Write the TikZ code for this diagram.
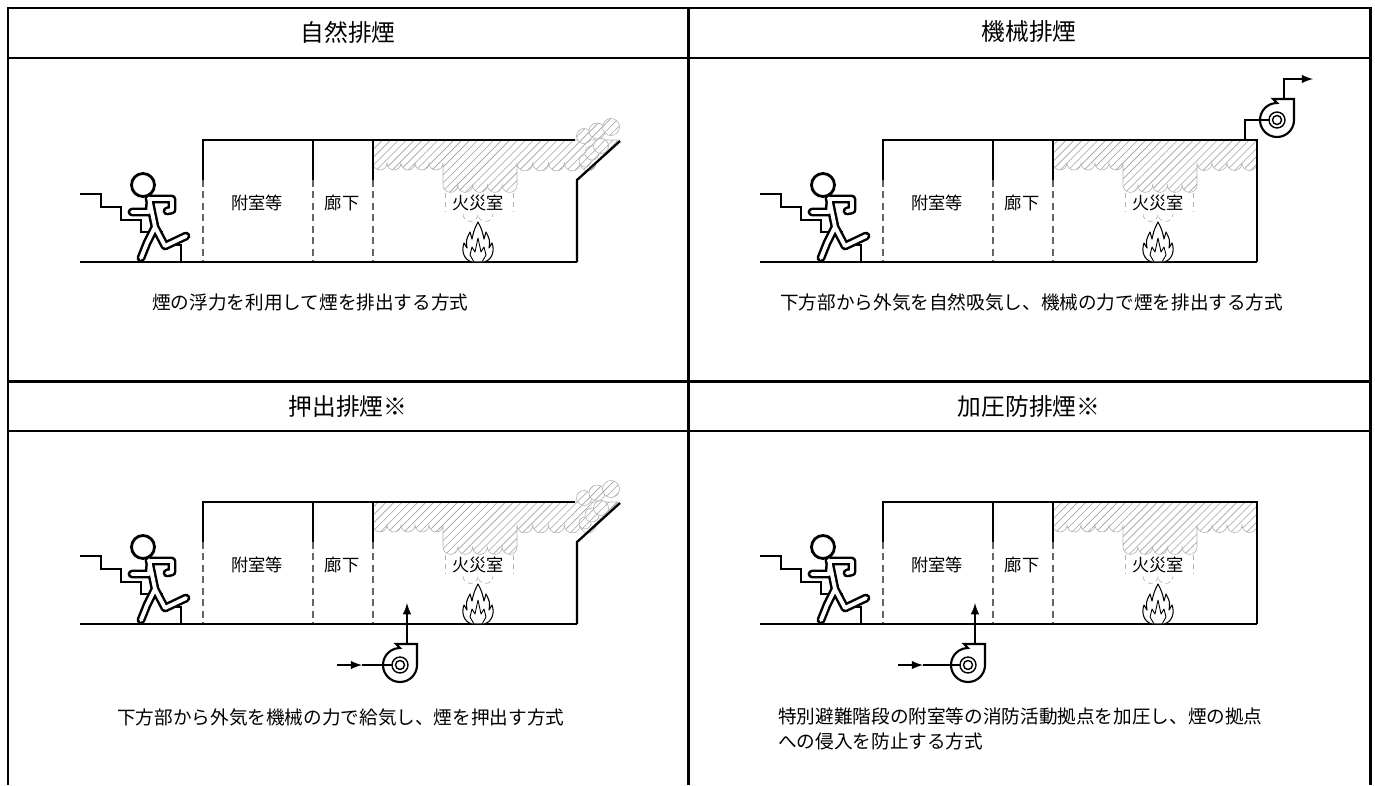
\documentclass[tikz,border=0pt]{standalone}
\usepackage{fontspec}
\newfontfamily\jp{Noto Sans CJK JP}
\usetikzlibrary{arrows}
\usetikzlibrary{patterns.meta}

\tikzset{
  frame/.style={line width=1.7pt},
  headline/.style={line width=0.8pt},
  wall/.style={line width=1.3pt},
  partition/.style={gray!80!black, line width=0.6pt, dash pattern=on 4pt off 2.5pt},
  smoke/.style={pattern={Lines[angle=45,distance=3.2pt,line width=0.35pt]}, pattern color=gray!75, draw=gray!60, line width=0.35pt},
  puff/.style={smoke, preaction={fill=white}},
  smokeline/.style={gray!60, line width=0.35pt, densely dashed},
  duct/.style={line width=1.2pt},
  room/.style={font=\jp\fontsize{9.8}{12}\selectfont, inner sep=1pt},
  title/.style={font=\jp\fontsize{13.5}{16}\selectfont},
  note/.style={font=\jp\fontsize{10.6}{14.5}\selectfont, anchor=west, align=left, inner sep=0pt},
}

% smoke under the ceiling: #1 right edge, #2/#3 scallops on the right part
\newcommand\smokeband[3]{%
  \path[smoke] (373,140) #1
    \foreach \i in {1,...,#2} {arc[start angle=0,end angle=180,radius=#3]}
    -- (517,185)
    \foreach \i in {1,...,5} {arc[start angle=0,end angle=180,radius=7.4]}
    -- (443,163)
    \foreach \i in {1,...,5} {arc[start angle=0,end angle=180,radius=7]}
    -- cycle;
  \draw[smokeline] (445,193) -- (445,212) (513,193) -- (513,212);
  \draw[smokeline] (463,214) arc[start angle=180,end angle=0,radius=7.5]
    arc[start angle=180,end angle=0,radius=7.5];
}

\newcommand\runnerpath{(149,198) -- (155,227)
  (151,199) -- (172,199) -- (172,210) -- (167,211)
  (150,200) -- (149,212) -- (132,212)
  (155,227) -- (147,243) -- (141,258)
  (155,227) -- (165,246) -- (186,236)}

\newcommand\commonparts{%
  % stairs and the runner
  \draw[line width=0.85pt] (80,194) -- (101,194) -- (101,207) -- (121,207) -- (121,220)
    -- (141,220) -- (141,232) -- (162,232) -- (162,245) -- (181,245) -- (181,262);
  \draw[line width=5pt, line cap=round, line join=round] \runnerpath;
  \draw[line width=2.2pt, white, line cap=round, line join=round] \runnerpath;
  \draw[line width=1.6pt, fill=white] (143,185) circle (11.5);
  % rooms
  \draw[wall] (313,140) -- (313,180);
  \draw[wall] (373,140) -- (373,180);
  \foreach \x in {203,313,373} \draw[partition] (\x,180) -- (\x,262);
  \draw[wall] (80,262) -- (577,262);
  \node[room] (lobby) at (257,203) {附室等};
  \node[room] (hall) at (342,203) {廊下};
  \node[room] (fireroom) at (478,203) {火災室};
  % fire
  \begin{scope}[shift={(478,262)}]
    \draw[line width=0.6pt, fill=white, line join=round] (-6,0)
      .. controls (-14,-2) and (-17,-11) .. (-14,-19) -- (-11,-14)
      .. controls (-12,-22) .. (-8,-30) -- (-6,-23)
      .. controls (-4,-32) .. (0,-40) .. controls (4,-32) .. (6,-23)
      -- (8,-30) .. controls (12,-22) .. (11,-14) -- (14,-19)
      .. controls (17,-11) and (14,-2) .. (6,0) -- cycle;
    \draw[line width=0.5pt, line join=round] (-4,0) -- (-8,-7) -- (-6,-15) -- (-3,-10)
      -- (0,-24) -- (3,-10) -- (6,-15) -- (8,-7) -- (4,0);
  \end{scope}
}

% smoke leaves through the opening at the top right
\newcommand\ventroom{%
  \smokeband{-- (618,140) -- (596,163)}{5}{7.9}
  \foreach \px/\py/\pr in {585/161/6,592/153/7,601/146/7.5,584/136/7.5,597/131/8,611/127/8.5}
    \path[puff] (\px,\py) circle (\pr);
  \draw[wall] (203,180) -- (203,140) -- (575,140);
  \draw[wall] (577,262) -- (577,180) -- (620,141);
  \commonparts
}

\newcommand\closedroom{%
  \smokeband{-- (577,140) -- (577,163)}{4}{7.5}
  \draw[wall] (203,180) -- (203,140) -- (577,140) -- (577,262);
  \commonparts
}

% centrifugal fan, #1 = centre
\newcommand\drawfan[1]{%
  \begin{scope}[shift={#1}]
    \draw[duct, fill=white] (-4,-21) -- (17,-21) -- (17,0)
      arc[start angle=0,end angle=270,radius=17] -- cycle;
    \draw[line width=0.8pt] (0,0) circle (8) (0,0) circle (4.5);
    \coordinate (fanin) at (-8,0);
    \coordinate (fanout) at (7,-21);
  \end{scope}
}

\begin{document}
\begin{tikzpicture}[x=0.02cm, y=-0.02cm]
  \useasboundingbox (0,0) rectangle (1375,785);

  % table
  \draw[frame] (8,785) -- (8,8) -- (1370,8) -- (1370,785);
  \draw[frame] (688,8) -- (688,785);
  \draw[frame] (8,381) -- (1370,381);
  \draw[headline] (8,58) -- (1370,58);
  \draw[headline] (8,431) -- (1370,431);

  \node[title] (t1) at (348,32) {自然排煙};
  \node[title] (t2) at (1029,32) {機械排煙};
  \node[title] (t3) at (348,406) {押出排煙※};
  \node[title] (t4) at (1029,406) {加圧防排煙※};

  % natural smoke exhaust
  \begin{scope}[name prefix=a-]
    \ventroom
  \end{scope}
  \node[note] (d1) at (152,302) {煙の浮力を利用して煙を排出する方式};

  % mechanical smoke exhaust
  \begin{scope}[shift={(680,0)}, name prefix=b-]
    \closedroom
    \drawfan{(597,120)}
    \coordinate (vent) at (565,140);
    \coordinate (exhaust) at (633,79);
    \draw[duct] (vent) |- (fanin);
    \draw[duct, -latex] (fanout) |- (exhaust);
  \end{scope}
  \node[note] (d2) at (780,302) {下方部から外気を自然吸気し、機械の力で煙を排出する方式};

  % push-out smoke exhaust
  \begin{scope}[shift={(0,362)}, name prefix=c-]
    \ventroom
    \drawfan{(400,303)}
    \coordinate (supply) at (407,241);
    \coordinate (intake) at (337,303);
    \coordinate (mid) at (362,303);
    \draw[duct, -latex] (fanout) -- (supply);
    \draw[duct, -latex] (intake) -- (mid);
    \draw[duct] (mid) -- (fanin);
  \end{scope}
  \node[note] (d3) at (117,717) {下方部から外気を機械の力で給気し、煙を押出す方式};

  % pressurisation
  \begin{scope}[shift={(680,362)}, name prefix=d-]
    \closedroom
    \drawfan{(288,303)}
    \coordinate (supply) at (295,241);
    \coordinate (intake) at (218,303);
    \coordinate (mid) at (243,303);
    \draw[duct, -latex] (fanout) -- (supply);
    \draw[duct, -latex] (intake) -- (mid);
    \draw[duct] (mid) -- (fanin);
  \end{scope}
  \node[note] (d4) at (778,729) {特別避難階段の附室等の消防活動拠点を加圧し、煙の拠点\\への侵入を防止する方式};
\end{tikzpicture}
\end{document}
